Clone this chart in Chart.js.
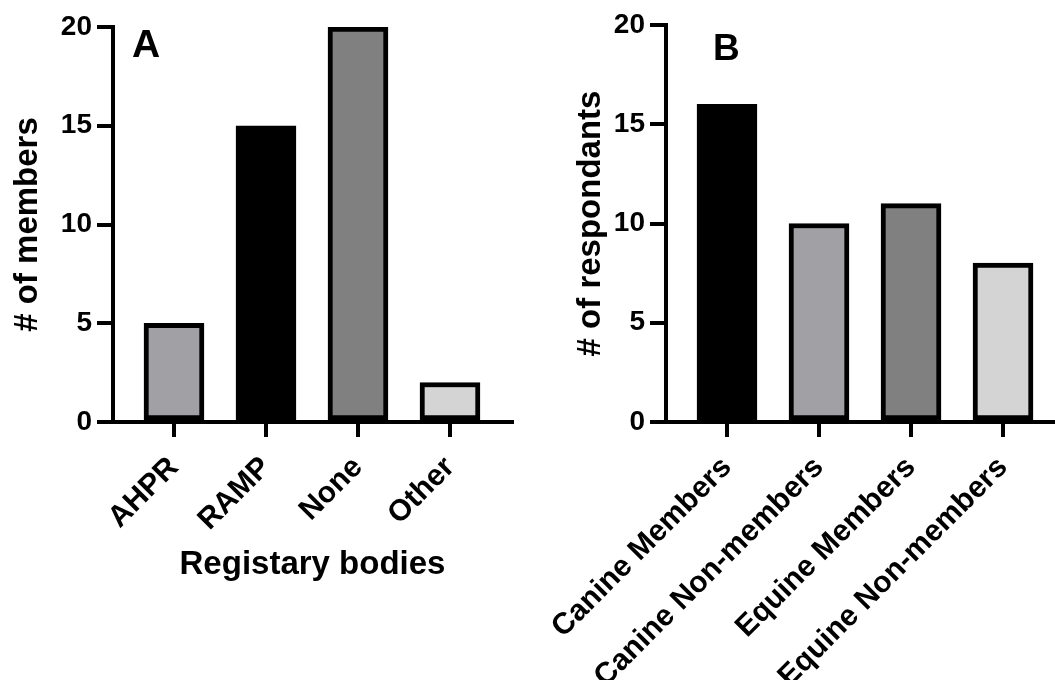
<!DOCTYPE html>
<html>
<head>
<meta charset="utf-8">
<script src="https://cdn.jsdelivr.net/npm/chart.js@4/dist/chart.umd.min.js"></script>
<style>
  html, body { margin: 0; padding: 0; background: #fff; overflow: hidden; }
  #wrap { position: relative; width: 1055px; height: 680px; }
  canvas { position: absolute; top: 0; }
  #panelA { left: 0; }
  #panelB { left: 540px; }
</style>
</head>
<body>
<div id="wrap">
  <canvas id="panelA" width="527" height="680"></canvas>
  <canvas id="panelB" width="515" height="680"></canvas>
</div>
<script>
// Panel A: membership of registry bodies
const registryLabels = ['AHPR', 'RAMP', 'None', 'Other'];
const registryCounts = [5, 15, 20, 2];
const registryColors = ['#a1a1a5', '#000000', '#808080', '#d4d4d4'];

// Panel B: respondents by species and membership
const respondentLabels = ['Canine Members', 'Canine Non-members', 'Equine Members', 'Equine Non-members'];
const respondentCounts = [16, 10, 11, 8];
const respondentColors = ['#000000', '#a1a1a5', '#808080', '#d4d4d4'];

const yTicks = [0, 5, 10, 15, 20];

const FONT = '"Liberation Sans", Arial, Helvetica, sans-serif';

function panelLetter(letter, dx, baseline, size) {
  return {
    id: 'panelLetter' + letter,
    afterDraw(chart) {
      const ctx = chart.ctx;
      ctx.save();
      ctx.font = 'bold ' + size + 'px ' + FONT;
      ctx.fillStyle = '#000';
      ctx.textAlign = 'left';
      ctx.textBaseline = 'alphabetic';
      ctx.fillText(letter, chart.chartArea.left + dx, baseline);
      ctx.restore();
    }
  };
}

function buildChart(id, labels, counts, colors, opts) {
  const points = counts.map((v, i) => ({ x: i + 1, y: v }));
  return new Chart(document.getElementById(id), {
    type: 'bar',
    data: {
      datasets: [{
        data: points,
        backgroundColor: colors,
        borderColor: '#000',
        borderWidth: 5,
        borderSkipped: false,
        barThickness: 60
      }]
    },
    options: {
      responsive: false,
      animation: false,
      devicePixelRatio: 1,
      layout: { padding: opts.padding },
      plugins: { legend: { display: false }, tooltip: { enabled: false } },
      scales: {
        x: {
          type: 'linear',
          offset: false,
          min: opts.xMin,
          max: opts.xMax,
          afterBuildTicks: (scale) => { scale.ticks = labels.map((_, i) => ({ value: i + 1 })); },
          afterFit: (scale) => {
            // rotated labels may hang past the plot edges; keep the plot area fixed
            scale.height = opts.xHeight;
            scale.paddingLeft = 0;
            scale.paddingRight = 0;
          },
          grid: { offset: false, drawOnChartArea: false, drawTicks: true, tickLength: 15, color: '#000', lineWidth: 4 },
          border: { display: true, color: '#000', width: 4 },
          ticks: {
            autoSkip: false,
            minRotation: 45,
            maxRotation: 45,
            padding: 13,
            color: '#000',
            font: { family: FONT, size: 30, weight: 'bold' },
            callback: (v) => labels[v - 1]
          },
          title: {
            display: !!opts.xTitle,
            text: opts.xTitle || '',
            color: '#000',
            font: { family: FONT, size: 33, weight: 'bold' },
            padding: { top: 0, bottom: 95 }
          }
        },
        y: {
          min: 0,
          max: 20,
          afterBuildTicks: (scale) => { scale.ticks = yTicks.map(v => ({ value: v })); },
          afterFit: (scale) => {
            scale.width = opts.yWidth;
            scale.paddingTop = 0;
            scale.paddingBottom = 0;
          },
          grid: { drawOnChartArea: false, drawTicks: true, tickLength: 16, color: '#000', lineWidth: 4 },
          border: { display: true, color: '#000', width: 4 },
          ticks: {
            padding: 5,
            color: '#000',
            font: { family: FONT, size: 28, weight: 'bold' }
          },
          title: {
            display: true,
            text: opts.yTitle,
            color: '#000',
            font: { family: FONT, size: 33, weight: 'bold' },
            padding: { top: 0, bottom: 0 }
          }
        }
      }
    },
    plugins: [panelLetter(opts.letter, opts.letterDx, opts.letterBase, opts.letterSize)]
  });
}

buildChart('panelA', registryLabels, registryCounts, registryColors, {
  padding: { left: 8, right: 15, top: 27, bottom: 0 },
  yWidth: 105,
  xHeight: 258,
  xMin: 0.337,
  xMax: 4.674,
  xTitle: 'Registary bodies',
  yTitle: '# of members',
  letter: 'A', letterDx: 19, letterBase: 57, letterSize: 39
});

buildChart('panelB', respondentLabels, respondentCounts, respondentColors, {
  padding: { left: 31, right: 0, top: 25, bottom: 0 },
  yWidth: 95,
  xHeight: 258,
  xMin: 0.337,
  xMax: 4.565,
  xTitle: '',
  yTitle: '# of respondants',
  letter: 'B', letterDx: 47, letterBase: 60, letterSize: 37
});
</script>
</body>
</html>
